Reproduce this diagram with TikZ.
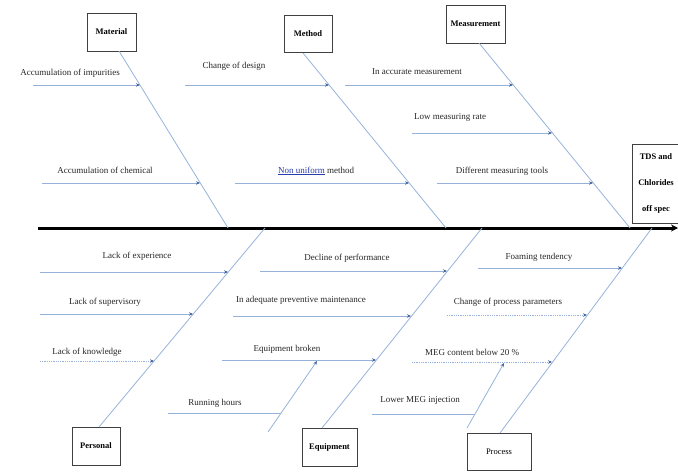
\documentclass[tikz,border=0pt]{standalone}
\usepackage{fontspec}
\setmainfont{Liberation Serif}
\usetikzlibrary{arrows.meta, positioning}
\definecolor{boneblue}{RGB}{150,178,218}
\definecolor{tipblue}{RGB}{70,100,160}
\definecolor{linkblue}{RGB}{40,60,170}

\begin{document}
\begin{tikzpicture}[
  x=1pt, y=-1pt,
  cat/.style={draw=black!75, line width=0.8pt, fill=white, inner sep=0pt,
              font=\fontsize{8.5}{10}\selectfont\bfseries},
  head/.style={draw=black!75, line width=0.8pt, fill=white, inner sep=0pt,
               align=center, minimum width=48, minimum height=79,
               font=\fontsize{8.5}{26}\selectfont\bfseries},
  bone/.style={boneblue, line width=0.8pt},
  sub/.style={boneblue, line width=0.8pt,
              -{Stealth[length=4pt, width=3.5pt, color=tipblue]}},
  lbl/.style={font=\fontsize{9}{10}\selectfont, inner sep=0pt, text=black!85},
  spine/.style={line width=3pt, -{Stealth[length=7pt, width=7pt]}},
]
\useasboundingbox (0,0) rectangle (678,472);

%% ---- spine and effect ----
\coordinate (tail) at (38,228);
\coordinate (tip)  at (678,228);
\draw[spine] (tail) -- (tip);
\node[head] (tds) at (656,183.5) {TDS and\\Chlorides\\off spec};

%% ---- category boxes ----
\node[cat, minimum width=49, minimum height=38] (material) at (111.5,32)  {Material};
\node[cat, minimum width=48, minimum height=37] (method)   at (308,33.5)  {Method};
\node[cat, minimum width=59, minimum height=38] (measure)  at (475.5,24)  {Measurement};
\node[cat, minimum width=48, minimum height=38] (personal) at (96,446)    {Personal};
\node[cat, minimum width=55, minimum height=38] (equip)    at (329.5,447) {Equipment};
\node[cat, minimum width=64, minimum height=37, font=\fontsize{8.5}{10}\selectfont]
                                                 (process)  at (499,451.5) {Process};

%% ---- main bones ----
\coordinate (matA) at (119,51);  \coordinate (matB) at (228,228);
\coordinate (metA) at (303,53);  \coordinate (metB) at (446,228);
\coordinate (meaA) at (479,43);  \coordinate (meaB) at (630,228);
\coordinate (perA) at (99,427);  \coordinate (perB) at (265,228);
\coordinate (equA) at (322,428); \coordinate (equB) at (482,228);
\coordinate (proA) at (500,433); \coordinate (proB) at (652,228);

\draw[bone] (matA) -- (matB);
\draw[bone] (metA) -- (metB);
\draw[bone] (meaA) -- (meaB);
\draw[bone] (perA) -- (perB);
\draw[bone] (equA) -- (equB);
\draw[bone] (proA) -- (proB);

%% ---- Material ----
\coordinate (impS) at (33,85);  \coordinate (impE) at (140,85);
\coordinate (cheS) at (42,183); \coordinate (cheE) at (200,183);
\draw[sub] (impS) -- (impE);
\draw[sub] (cheS) -- (cheE);
\node[lbl] (imp) at (70,73)   {Accumulation of impurities};
\node[lbl] (che) at (105,170) {Accumulation of chemical};

%% ---- Method ----
\coordinate (desS) at (185,85);  \coordinate (desE) at (329,85);
\coordinate (nonS) at (235,183); \coordinate (nonE) at (409,183);
\draw[sub] (desS) -- (desE);
\draw[sub] (nonS) -- (nonE);
\node[lbl] (des) at (234,66)  {Change of design};
\node[lbl] (non) at (316,171) {{\color{linkblue}\underline{Non uniform}} method};

%% ---- Measurement ----
\coordinate (inaS) at (345,85);  \coordinate (inaE) at (513,85);
\coordinate (lowS) at (412,133); \coordinate (lowE) at (552,133);
\coordinate (difS) at (437,183); \coordinate (difE) at (593,183);
\draw[sub] (inaS) -- (inaE);
\draw[sub] (lowS) -- (lowE);
\draw[sub] (difS) -- (difE);
\node[lbl] (ina) at (417,72)  {In accurate measurement};
\node[lbl] (low) at (450,117) {Low measuring rate};
\node[lbl] (dif) at (502,171) {Different measuring tools};

%% ---- Personal ----
\coordinate (expS) at (40,272); \coordinate (expE) at (228,272);
\coordinate (supS) at (40,314); \coordinate (supE) at (193,314);
\coordinate (knoS) at (40,361); \coordinate (knoE) at (154,361);
\draw[sub] (expS) -- (expE);
\draw[sub] (supS) -- (supE);
\draw[sub, densely dotted] (knoS) -- (knoE);
\node[lbl] (exp) at (137,256) {Lack of experience};
\node[lbl] (sup) at (105,302) {Lack of supervisory};
\node[lbl] (kno) at (87,352)  {Lack of knowledge};

%% ---- Equipment ----
\coordinate (decS) at (260,271); \coordinate (decE) at (447,271);
\coordinate (adeS) at (233,316); \coordinate (adeE) at (411,316);
\coordinate (broS) at (222,360); \coordinate (broE) at (376,360);
\coordinate (runA) at (268,432); \coordinate (runB) at (317,361);
\coordinate (runS) at (168,413); \coordinate (runE) at (281,413);
\draw[sub] (decS) -- (decE);
\draw[sub] (adeS) -- (adeE);
\draw[sub] (broS) -- (broE);
\draw[sub] (runA) -- (runB);
\draw[bone] (runS) -- (runE);
\node[lbl] (dec) at (347,258) {Decline of performance};
\node[lbl] (ade) at (301,300) {In adequate preventive maintenance};
\node[lbl] (bro) at (287,349) {Equipment broken};
\node[lbl] (run) at (215,403) {Running hours};

%% ---- Process ----
\coordinate (foaS) at (478,268); \coordinate (foaE) at (622,268);
\coordinate (parS) at (447,315); \coordinate (parE) at (587,315);
\coordinate (megS) at (412,362); \coordinate (megE) at (552,362);
\coordinate (injA) at (467,428); \coordinate (injB) at (504,363);
\coordinate (injS) at (372,414); \coordinate (injE) at (475,414);
\draw[sub] (foaS) -- (foaE);
\draw[sub, densely dotted] (parS) -- (parE);
\draw[sub, densely dotted] (megS) -- (megE);
\draw[sub] (injA) -- (injB);
\draw[bone] (injS) -- (injE);
\node[lbl] (foa) at (539,257) {Foaming tendency};
\node[lbl] (par) at (508,302) {Change of process parameters};
\node[lbl] (meg) at (472,352) {MEG content below 20 \%};
\node[lbl] (inj) at (420,400) {Lower MEG injection};

\end{tikzpicture}
\end{document}
